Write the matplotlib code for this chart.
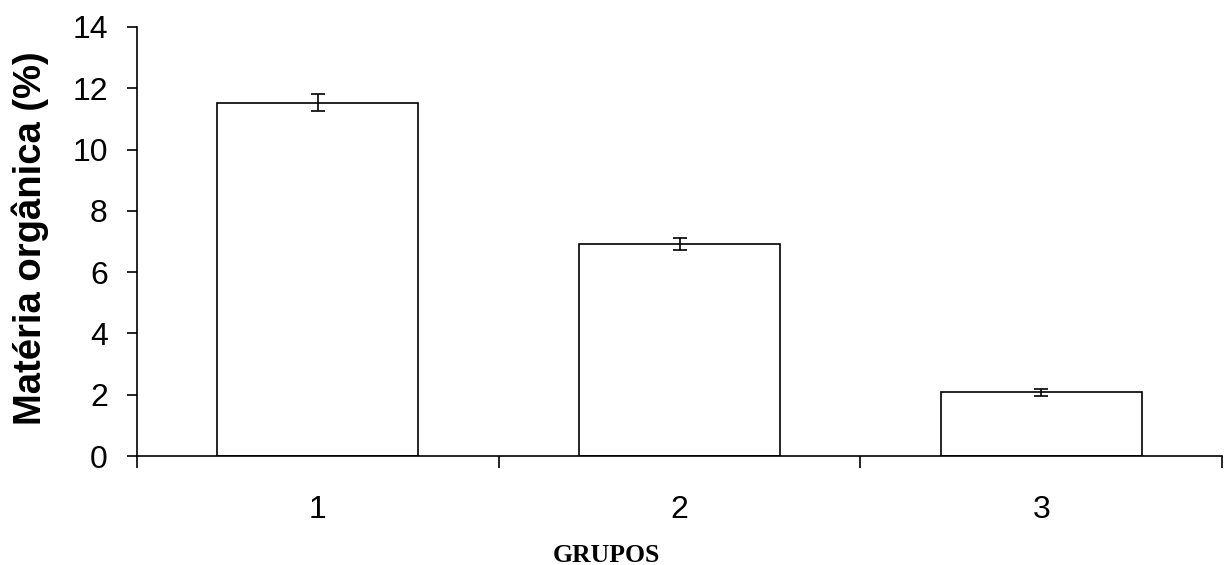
import numpy as np
import matplotlib.pyplot as plt

# data
grupos = ["1", "2", "3"]
materia_organica = [11.53, 6.92, 2.08]
erro = [0.28, 0.19, 0.12]

fig = plt.figure(figsize=(12.25, 5.65), dpi=100)
ax = fig.add_axes([137 / 1225, 1 - 456 / 565, (1222 - 137) / 1225, (456 - 27) / 565])

x = np.arange(1, len(grupos) + 1)
ax.bar(x, materia_organica, width=0.555, color="white", edgecolor="black", linewidth=1.2, zorder=2)
ax.errorbar(x, materia_organica, yerr=erro, fmt="none", ecolor="black",
            elinewidth=1.2, capsize=5, capthick=1.2, zorder=3)

ax.set_xlim(0.5, len(grupos) + 0.5)
ax.set_ylim(0, 14)

for s in ["top", "right"]:
    ax.spines[s].set_visible(False)
for s in ["left", "bottom"]:
    ax.spines[s].set_linewidth(1.2)

# y axis
ax.set_yticks(np.arange(0, 15, 2))
ax.tick_params(axis="y", length=7.5, width=1.2, pad=13.5, labelsize=23)

# x axis: ticks between groups, labels at group centres
ax.set_xticks(np.arange(0.5, len(grupos) + 1, 1))
ax.set_xticklabels([])
ax.tick_params(axis="x", which="major", length=8.5, width=1.2)
ax.set_xticks(x, minor=True)
ax.set_xticklabels(grupos, minor=True)
ax.tick_params(axis="x", which="minor", length=0, pad=28, labelsize=23)

for lab in ax.get_yticklabels() + ax.get_xticklabels(minor=True):
    lab.set_family("Liberation Sans")

ax.set_ylabel("Matéria orgânica (%)", family="Liberation Sans", fontweight="bold",
              fontsize=27.5)
# anchor is the right-hand (descent) side of the rotated label
ax.yaxis.set_label_coords(-(137 - 49) / (1222 - 137), (456 - 238) / (456 - 27))

fig.text(606 / 1225, (565 - 562) / 565, "GRUPOS", family="Liberation Serif",
         fontweight="bold", fontsize=18.5, ha="center", va="baseline")

fig.savefig("out.png", dpi=100)
